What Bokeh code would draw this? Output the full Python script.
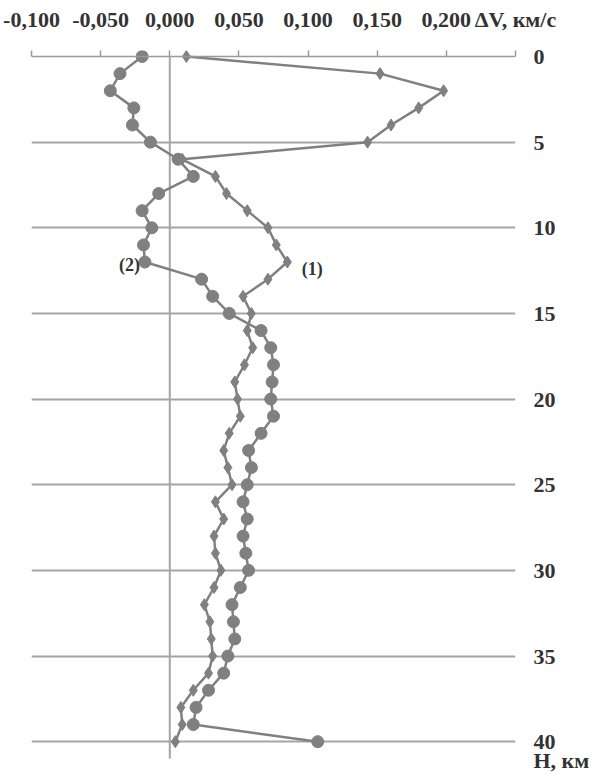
from bokeh.plotting import figure
from bokeh.models import Range1d, FixedTicker, Span, Label
from bokeh.embed import file_html
from bokeh.resources import INLINE

# ---- data ----
depth_km = list(range(0, 41))
dv_series1 = [0.012, 0.152, 0.198, 0.180, 0.160, 0.143, 0.009, 0.033, 0.041, 0.056,
              0.071, 0.077, 0.085, 0.071, 0.053, 0.059, 0.056, 0.060, 0.054, 0.047,
              0.049, 0.051, 0.043, 0.039, 0.042, 0.045, 0.033, 0.039, 0.032, 0.033,
              0.037, 0.032, 0.025, 0.029, 0.030, 0.031, 0.028, 0.017, 0.008, 0.009,
              0.004]
dv_series2 = [-0.020, -0.036, -0.043, -0.026, -0.027, -0.014, 0.006, 0.017, -0.008, -0.020,
              -0.013, -0.019, -0.018, 0.023, 0.031, 0.043, 0.066, 0.073, 0.075, 0.074,
              0.073, 0.075, 0.066, 0.057, 0.059, 0.056, 0.053, 0.056, 0.053, 0.055,
              0.057, 0.051, 0.045, 0.046, 0.047, 0.042, 0.039, 0.028, 0.019, 0.017,
              0.107]
x_ticks = [-0.1, -0.05, 0.0, 0.05, 0.1, 0.15, 0.2, 0.25]
x_tick_labels = ["-0,100", "-0,050", "0,000", "0,050", "0,100", "0,150", "0,200",
                 "\u0394V, \u043a\u043c/\u0441"]
y_ticks = [0, 5, 10, 15, 20, 25, 30, 35, 40]
y_tick_labels = ["0", "5", "10", "15", "20", "25", "30", "35", "40"]
y_title_pos = 41.6
y_title = "H, \u043a\u043c"
grid_ticks = [5, 10, 15, 20, 25, 30, 35, 40]
zero_line_depth = [0, 41]

FONT = "Liberation Serif"
TXT = "#333333"
GRAY = "#808080"

p = figure(width=592, height=772,
           x_range=Range1d(-0.1, 0.25), y_range=Range1d(41.8, -0.35),
           x_axis_location="above", y_axis_location="right",
           output_backend="svg", toolbar_location=None,
           min_border_left=31, min_border_right=61,
           min_border_top=50, min_border_bottom=0)
p.outline_line_color = None
p.background_fill_color = "white"
p.border_fill_color = "white"

# top axis
xa = p.xaxis[0]
xa.ticker = FixedTicker(ticks=x_ticks)
xa.major_label_overrides = {t: s for t, s in zip(x_ticks, x_tick_labels)}
xa.axis_line_color = None
xa.major_tick_in = 6
xa.major_tick_out = 0
xa.major_tick_line_color = "#9a9a9a"
xa.major_tick_line_width = 1.5
xa.minor_tick_line_color = None
xa.major_label_standoff = 19
xa.major_label_text_font = FONT
xa.major_label_text_font_size = "22px"
xa.major_label_text_font_style = "bold"
xa.major_label_text_color = TXT

# right axis
ya = p.yaxis[0]
ya.ticker = FixedTicker(ticks=y_ticks + [y_title_pos])
ya.major_label_overrides = dict(zip(y_ticks + [y_title_pos], y_tick_labels + [y_title]))
ya.axis_line_color = None
ya.major_tick_line_color = None
ya.minor_tick_line_color = None
ya.major_label_standoff = 12
ya.major_label_text_font = FONT
ya.major_label_text_font_size = "22px"
ya.major_label_text_font_style = "bold"
ya.major_label_text_color = TXT

p.xgrid.visible = False
p.ygrid.ticker = FixedTicker(ticks=grid_ticks)
p.ygrid.grid_line_color = "#a5a5a5"
p.ygrid.grid_line_width = 2.2

# axis line at H = 0 and vertical line at dV = 0
p.add_layout(Span(location=0, dimension="width", line_color="#9a9a9a", line_width=1.5))
p.line([0, 0], zero_line_depth, line_color="#a5a5a5", line_width=2)

# series (1): diamonds
p.line(dv_series1, depth_km, line_color=GRAY, line_width=2.5)
p.scatter(dv_series1, depth_km, marker="diamond", size=12, fill_color=GRAY, line_color=GRAY)
# series (2): circles
p.line(dv_series2, depth_km, line_color=GRAY, line_width=2.5)
p.scatter(dv_series2, depth_km, marker="circle", size=12, fill_color=GRAY, line_color=GRAY)

def lab(x, y, t, align):
    p.add_layout(Label(x=x, y=y, text=t, text_font=FONT, text_font_size="18px",
                       text_font_style="bold", text_color=TXT, text_align=align,
                       text_baseline="middle"))

lab(0.0955, 12.4, "(1)", "left")
lab(-0.0215, 12.2, "(2)", "right")

open("out.html", "w").write(file_html(p, INLINE))
